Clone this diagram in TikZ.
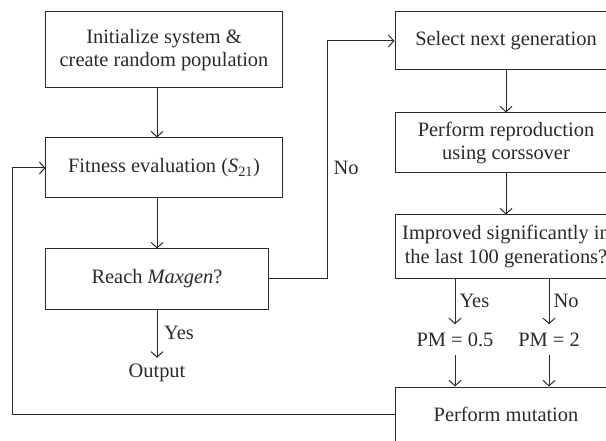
\documentclass[tikz,border=0pt]{standalone}
\usepackage{fontspec}
\setmainfont{Liberation Serif}
\usetikzlibrary{arrows.meta,positioning,calc}
\definecolor{gaInk}{HTML}{2B2A29}
\newcommand{\gafont}{\fontsize{20.5}{23.5}\selectfont}
\tikzset{
  gabox/.style={
    draw=gaInk, line width=1bp, font=\gafont, text=gaInk,
    align=center, inner sep=2bp
  },
  gaflow/.style={-{Straight Barb[length=5.5bp,width=12bp]}, line width=1bp, draw=gaInk},
  galine/.style={line width=1bp, draw=gaInk},
  gatag/.style={font=\gafont, text=gaInk, inner sep=1bp}
}

\begin{document}
\begin{tikzpicture}[x=1bp, y=-1bp]
  \useasboundingbox (0,0) rectangle (606,441);
  \clip (0,0) rectangle (606,441);
  % left column
  \node[gabox, minimum width=236bp, minimum height=76bp] (init) at (164,50)
    {Initialize system \&\\create random population};
  \node[gabox, minimum width=236bp, minimum height=60bp] (fit) at (164,168)
    {Fitness evaluation (\textit{S}\textsubscript{21})};
  \node[gabox, minimum width=222bp, minimum height=60bp] (reach) at (157,279)
    {Reach \textit{Maxgen}?};
  \node[gatag, minimum height=30bp] (out) at (157,373) {Output};
  % right column
  \node[gabox, minimum width=222bp, minimum height=58bp] (sel) at (506,41)
    {Select next generation};
  \node[gabox, minimum width=222bp, minimum height=60bp] (repro) at (506,143)
    {Perform reproduction\\using corssover};
  \node[gabox, minimum width=222bp, minimum height=63bp] (impr) at (506,246.5)
    {Improved significantly in\\the last 100 generations?};
  \node[gabox, minimum width=222bp, minimum height=54bp] (mut) at (506,414)
    {Perform mutation};
  \coordinate (back) at (12,0);
  \coordinate (nox) at (327,0);

  \draw[gaflow] (init.south -| reach) -- (fit.north -| reach);
  \draw[gaflow] (fit.south -| reach) -- (reach.north);
  \draw[gaflow] (reach.south) -- (out.north);
  \node[gatag, anchor=west] (yes) at (163,333) {Yes};
  \draw[gaflow] (reach.east) -- (reach.east -| nox) -- (nox |- sel.west) -- (sel.west);
  \node[gatag] (no) at (346,168) {No};
  \draw[gaflow] (sel) -- (repro);
  \draw[gaflow] (repro) -- (impr);
  \foreach \xx/\nm/\val/\ans in {455/pma/0.5/Yes, 549/pmb/2/No}{
    \node[gatag, minimum height=30bp] (\nm) at (\xx,339.5) {PM = \val};
    \draw[gaflow] (impr.south -| \nm) -- (\nm.north)
      node[gatag, midway, anchor=west, xshift=3bp] {\ans};
    \draw[gaflow] (\nm.south) -- (mut.north -| \nm);
  }
  \draw[gaflow] (mut.west) -- (mut.west -| back) -- (back |- fit.west) -- (fit.west);
\end{tikzpicture}
\end{document}
